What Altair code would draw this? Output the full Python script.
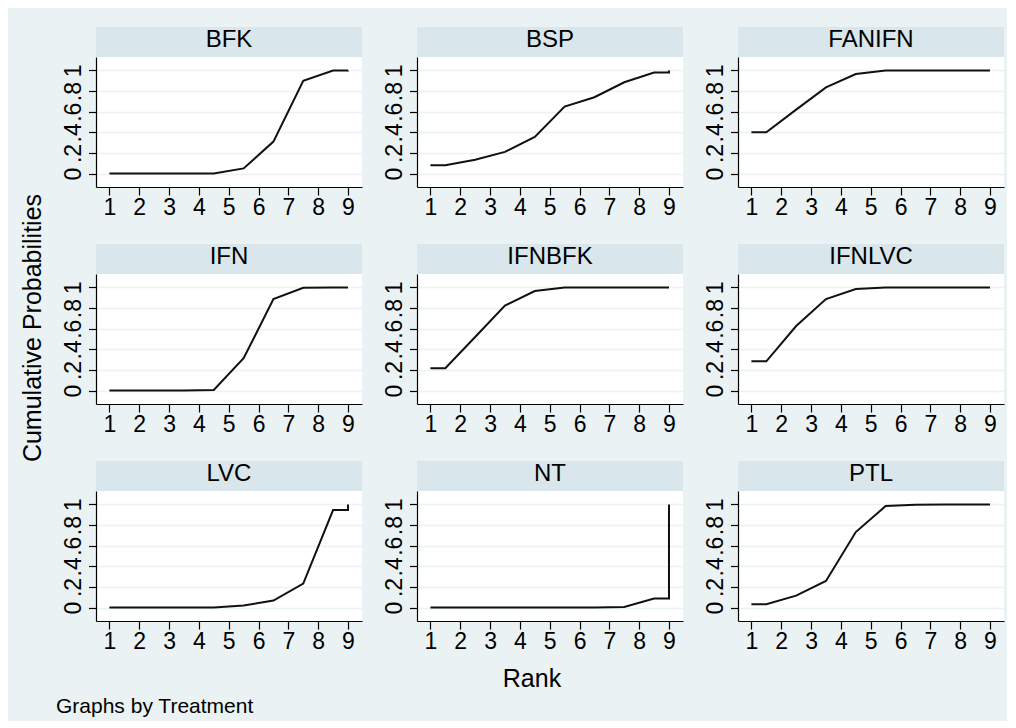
import altair as alt
import pandas as pd

FONT = "Liberation Sans"
BG = "#EAF2F3"
HDR = "#D9E6EB"

treatments = ["BFK", "BSP", "FANIFN", "IFN", "IFNBFK", "IFNLVC", "LVC", "NT", "PTL"]
ranks = [1, 2, 3, 4, 5, 6, 7, 8, 9]
y_ticks = [0, 0.2, 0.4, 0.6, 0.8, 1]

# cumulative probability of being ranked 1..k (k = 1..9)
cum_bfk = [0.0, 0.0, 0.0, 0.0, 0.05, 0.31, 0.90, 0.999, 1.0]
cum_bsp = [0.08, 0.135, 0.21, 0.355, 0.65, 0.74, 0.885, 0.98, 1.0]
cum_fanifn = [0.40, 0.62, 0.835, 0.965, 0.998, 1.0, 1.0, 1.0, 1.0]
cum_ifn = [0.0, 0.0, 0.0, 0.006, 0.313, 0.887, 0.997, 1.0, 1.0]
cum_ifnbfk = [0.216, 0.52, 0.823, 0.965, 0.998, 1.0, 1.0, 1.0, 1.0]
cum_ifnlvc = [0.284, 0.626, 0.887, 0.984, 0.998, 1.0, 1.0, 1.0, 1.0]
cum_lvc = [0.0, 0.0, 0.0, 0.0, 0.02, 0.068, 0.232, 0.945, 1.0]
cum_nt = [0.0, 0.0, 0.0, 0.0, 0.0, 0.0, 0.005, 0.087, 1.0]
cum_ptl = [0.032, 0.116, 0.258, 0.732, 0.984, 0.997, 0.999, 1.0, 1.0]

series = [cum_bfk, cum_bsp, cum_fanifn, cum_ifn, cum_ifnbfk, cum_ifnlvc,
          cum_lvc, cum_nt, cum_ptl]

# Stata-style cumulative ranking curve: start at rank 1, vertices at k+0.5, end at 9
rows = []
for name, cum in zip(treatments, series):
    pos = [ranks[0]] + [r + 0.5 for r in ranks[:-1]] + [ranks[-1], ranks[-1]]
    vals = [cum[0]] + cum[:-1] + [cum[-2], cum[-1]]
    for i, (x, y) in enumerate(zip(pos, vals)):
        rows.append({"t": name, "i": i, "pos": x, "p": y})
df = pd.DataFrame(rows)

W, H = 266, 130

xaxis = alt.Axis(values=ranks, format="d", grid=False, title=None,
                 domainColor="black", domainWidth=1.2, tickColor="black",
                 tickSize=8, tickWidth=1.2, labelFont=FONT, labelFontSize=23,
                 labelColor="black", labelPadding=1, labelFlush=False,
                 labelOverlap=False)
yaxis = alt.Axis(values=y_ticks, title=None,
                 labelExpr="datum.value == 0 ? '0' : datum.value == 1 ? '1' : replace(format(datum.value, '.1f'), '0.', '.')",
                 grid=True, gridColor=BG, gridWidth=1.6,
                 domainColor="black", domainWidth=1.2, tickColor="black",
                 tickSize=7.5, tickWidth=1.2, labelFont=FONT, labelFontSize=23,
                 labelColor="black", labelAngle=270, labelAlign="center",
                 labelBaseline="bottom", labelPadding=3.5, labelFlush=False,
                 labelOverlap=False)


def text_layer(txt, x, y, size, align="center", angle=0):
    return alt.Chart(pd.DataFrame({"s": [txt]})).mark_text(
        font=FONT, fontSize=size, color="black", align=align,
        baseline="middle", angle=angle).encode(
        text="s:N", x=alt.value(x), y=alt.value(y))


panels = []
for k, name in enumerate(treatments):
    d = df[df.t == name]
    line = alt.Chart(d).mark_line(color="#111111", strokeWidth=2).encode(
        x=alt.X("pos:Q", scale=alt.Scale(domain=[0.55, 9.47], nice=False, zero=False), axis=xaxis),
        y=alt.Y("p:Q", scale=alt.Scale(domain=[-0.13, 1.13], nice=False, zero=False), axis=yaxis),
        order="i:Q",
    )
    hdr = alt.Chart(pd.DataFrame({"s": [name]})).mark_rect(color=HDR).encode(
        x=alt.value(0), x2=alt.value(W), y=alt.value(-30), y2=alt.value(0))
    layers = [hdr, text_layer(name, W / 2, -17, 24), line]
    if k == 3:
        layers.append(text_layer("Cumulative Probabilities", -63, 54, 25, angle=270))
    if k == 7:
        layers.append(text_layer("Rank", 115, 188, 25))
    if k == 6:
        layers.append(text_layer("Graphs by Treatment", -40, 216, 21, align="left"))
    panels.append(alt.layer(*layers).properties(width=W, height=H))

chart = alt.concat(*panels, columns=3, spacing={"row": 87, "column": 55},
                   bounds="flush").properties(
    background=BG,
    padding={"left": 12, "top": 19, "right": 3, "bottom": 4},
).configure_view(stroke=None, fill="white")

chart.save("out.html", embed_options={"renderer": "svg", "actions": False})
